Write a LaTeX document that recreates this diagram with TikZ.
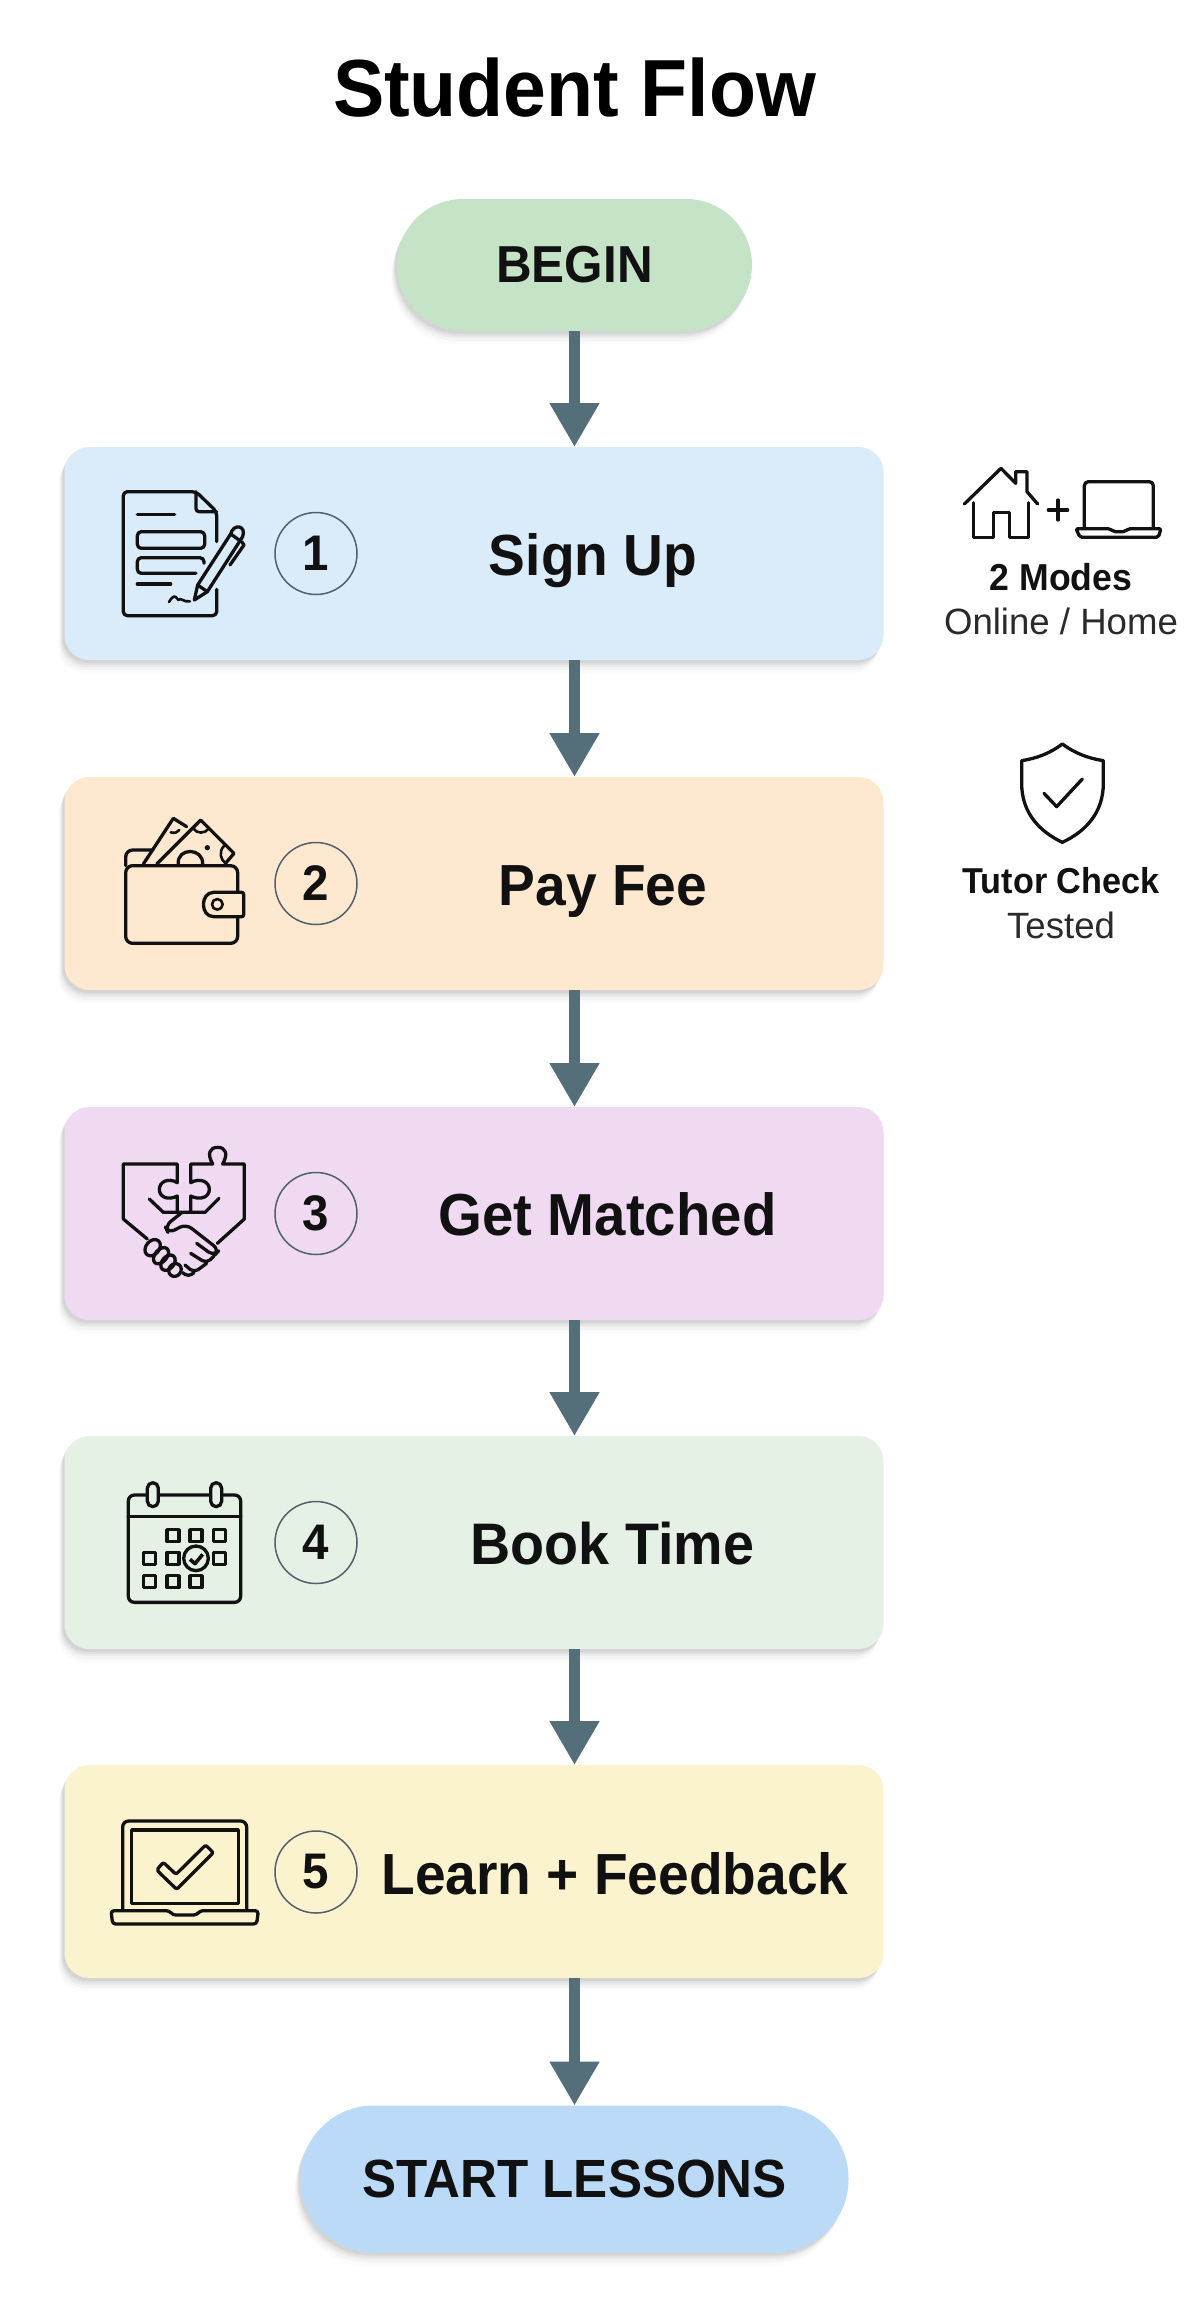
\documentclass[tikz,border=0pt]{standalone}
\usepackage{fontspec}
\setmainfont{Liberation Sans}
\newfontfamily\narrowf[FakeStretch=0.95]{Liberation Sans}
\usetikzlibrary{arrows.meta,shadows,calc}
\definecolor{ink}{HTML}{111111}
\definecolor{soft}{HTML}{2A2A2A}
\definecolor{flowc}{HTML}{546E7A}
\definecolor{ringc}{HTML}{52606B}
\definecolor{cbegin}{HTML}{C5E3C6}
\definecolor{cend}{HTML}{BBDAF7}
\definecolor{cone}{HTML}{DAEBFA}
\definecolor{ctwo}{HTML}{FEE8D0}
\definecolor{cthree}{HTML}{EFDAF2}
\definecolor{cfour}{HTML}{E6F1E6}
\definecolor{cfive}{HTML}{FBF3CE}
\tikzset{
  softshade/.style={
    drop shadow={shadow xshift=-6pt,shadow yshift=-13pt,opacity=.03},
    drop shadow={shadow xshift=-5pt,shadow yshift=-10pt,opacity=.05},
    drop shadow={shadow xshift=-4pt,shadow yshift=-7pt,opacity=.07},
    drop shadow={shadow xshift=-3pt,shadow yshift=-5pt,opacity=.09},
    drop shadow={shadow xshift=-2pt,shadow yshift=-3pt,opacity=.13}},
  cardbox/.style={rectangle,rounded corners=25pt,minimum width=819pt,minimum height=213pt,inner sep=0pt,outer sep=0pt,softshade},
  pillbox/.style={rectangle,inner sep=0pt,outer sep=0pt,softshade,text=ink,font=\narrowf\bfseries\fontsize{52}{56}\selectfont},
  steptext/.style={anchor=base,text=ink,font=\narrowf\bfseries\fontsize{58}{60}\selectfont},
  numring/.style={circle,draw=ringc,line width=1.5pt,minimum size=82pt,inner sep=0pt,text=ink,font=\narrowf\bfseries\fontsize{50}{52}\selectfont},
  flow/.style={draw=flowc,line width=11pt,-{Triangle[width=47pt,length=44pt]}},
  icon/.style={draw=ink,line width=3.3pt,line join=round,line cap=round},
  thinicon/.style={draw=ink,line width=2.6pt,line join=round,line cap=round},
  sidebold/.style={anchor=base,text=ink,font=\narrowf\bfseries\fontsize{36}{38}\selectfont},
  sidereg/.style={anchor=base,text=soft,font=\fontsize{36.6}{38}\selectfont}
}
\begin{document}
\begin{tikzpicture}[x=1pt,y=-1pt]
\path[use as bounding box,fill=white] (0,0) rectangle (1200,2302);

\node[anchor=base,text=black,font=\narrowf\bfseries\fontsize{81}{84}\selectfont] (title) at (574.5,116) {Student Flow};

\node[pillbox,fill=cbegin,minimum width=355pt,minimum height=132pt,rounded corners=66pt] (begin) at (574.5,265) {\raisebox{-2pt}{BEGIN}};
\node[cardbox,fill=cone] (card1) at (474,553.5) {};
\node[cardbox,fill=ctwo] (card2) at (474,883.5) {};
\node[cardbox,fill=cthree] (card3) at (474,1213.5) {};
\node[cardbox,fill=cfour] (card4) at (474,1542.5) {};
\node[cardbox,fill=cfive] (card5) at (474,1871.5) {};
\node[pillbox,fill=cend,minimum width=548pt,minimum height=147pt,rounded corners=73pt] (finish) at (574.5,2179) {\raisebox{-2pt}{\fontsize{53.8}{56}\selectfont START LESSONS}};

\draw[flow] (begin.south) -- (begin.south |- card1.north);
\draw[flow] (begin.south |- card1.south) -- (begin.south |- card2.north);
\draw[flow] (begin.south |- card2.south) -- (begin.south |- card3.north);
\draw[flow] (begin.south |- card3.south) -- (begin.south |- card4.north);
\draw[flow] (begin.south |- card4.south) -- (begin.south |- card5.north);
\draw[flow] (begin.south |- card5.south) -- (finish.north);

\node[numring] (n1) at (316,553.5) {1};
\node[numring] (n2) at (316,883.5) {2};
\node[numring] (n3) at (316,1213.5) {3};
\node[numring] (n4) at (316,1542.5) {4};
\node[numring] (n5) at (316,1872) {5};

\node[steptext] (t1) at (593,575) {Sign Up};
\node[steptext] (t2) at (603,905) {Pay Fee};
\node[steptext,font=\narrowf\bfseries\fontsize{59.3}{60}\selectfont] (t3) at (607.5,1235) {Get Matched};
\node[steptext,font=\narrowf\bfseries\fontsize{58.6}{60}\selectfont] (t4) at (612.5,1564) {Book Time};
\node[steptext] (t5) at (615,1894) {Learn + Feedback};

\node[sidebold,font=\narrowf\bfseries\fontsize{37.5}{38}\selectfont] (m1) at (1061,590) {2 Modes};
\node[sidereg] (m2) at (1061,634) {Online / Home};
\node[sidebold] (c1) at (1061,893) {Tutor Check};
\node[sidereg] (c2) at (1061,938) {Tested};

% document icon
\begin{scope}[shift={(60,430)},scale=1/3]
\draw[icon,rounded corners=4pt] (470,335) -- (470,245) -- (408,185) -- (190,185) -- (190,557) -- (470,557) -- (470,478);
\draw[icon,rounded corners=3pt] (408,185) -- (408,245) -- (470,245);
\draw[icon] (232,254) -- (344,254);
\draw[icon,rounded corners=4pt] (232,305) rectangle (434,355);
\draw[icon,rounded corners=4pt] (432,400) -- (432,383) -- (232,383) -- (232,430) -- (408,430);
\draw[icon] (232,462) -- (332,462);
\draw[thinicon] (327,516) .. controls (340,495) and (345,495) .. (355,510) .. controls (362,500) and (370,518) .. (390,514);
\draw[icon] (403,510) -- (413,465) -- (512,312) .. controls (520,280) and (560,285) .. (548,320) -- (442,485) -- cycle;
\draw[icon] (413,465) -- (442,485);
\draw[icon] (512,312) -- (540,332);
\draw[icon] (545,335) -- (552,345) -- (510,405);
\end{scope}

% wallet icon
\begin{scope}[shift={(60,760)},scale=1/3]
\draw[icon,rounded corners=7pt] (197,317) rectangle (533,550);
\draw[icon,rounded corners=7pt] (197,317) -- (197,270) -- (278,270);
\draw[icon] (250,312) -- (340,175) -- (380,200);
\draw[thinicon] (332,217) .. controls (345,220) and (352,218) .. (358,210);
\draw[icon] (290,312) -- (422,180) -- (522,280) -- (495,312);
\draw[icon] (355,312) .. controls (350,262) and (430,262) .. (428,312);
\fill[ink] (442,263) circle (8);
\draw[thinicon] (400,205) .. controls (410,222) and (435,222) .. (447,205);
\draw[thinicon] (492,258) .. controls (475,275) and (482,300) .. (497,310);
\draw[icon,fill=ctwo,rounded corners=2pt] (551,397) -- (467,397) .. controls (420,397) and (420,470) .. (467,470) -- (551,470) -- cycle;
\draw[thinicon] (472,433) circle (16);
\end{scope}

% handshake and puzzle icon
\begin{scope}[shift={(60,1090)},scale=1/3]
\draw[icon] (262,447) -- (190,387) -- (190,222) -- (352,222) -- (352,278) .. controls (325,262) and (298,275) .. (298,298) .. controls (298,322) and (325,332) .. (352,318) -- (352,365);
\draw[icon] (392,365) -- (392,318) .. controls (420,332) and (448,322) .. (448,298) .. controls (448,275) and (420,262) .. (392,278) -- (392,222) -- (458,222) .. controls (440,190) and (450,172) .. (473,172) .. controls (496,172) and (506,190) .. (488,222) -- (553,222) -- (553,387) -- (472,460);
\draw[icon] (268,327) -- (310,367) -- (435,367) -- (477,325);
\draw[icon,rounded corners=7pt] (365,368) -- (315,408) -- (325,430) -- (378,402) -- (478,480) -- (462,498) -- (410,460);
\draw[icon,rounded corners=5pt] (462,498) -- (440,520) -- (392,490);
\draw[icon,rounded corners=5pt] (440,520) -- (402,548) -- (375,525);
\draw[icon,rounded corners=4pt] (402,548) -- (385,560) -- (368,548);
\draw[icon,rotate around={50:(278,473)}] (278,473) ellipse (27 and 20);
\draw[icon,rotate around={50:(303,497)}] (303,497) ellipse (28 and 18);
\draw[icon,rotate around={50:(324,518)}] (324,518) ellipse (26 and 18);
\draw[icon,rotate around={50:(345,540)}] (345,540) ellipse (20 and 18);
\end{scope}

% calendar icon
\begin{scope}[shift={(60,1420)},scale=1/3]
\draw[icon,rounded corners=6pt] (205,225) rectangle (542,547);
\draw[icon] (205,290) -- (542,290);
\draw[icon,fill=cfour,rounded corners=5.5pt] (262,188) rectangle (295,260);
\draw[icon,fill=cfour,rounded corners=5.5pt] (452,188) rectangle (485,260);
\foreach \px/\py in {339/347,408/347,478/347,268/415,339/415,478/415,268/485,339/485,408/485}{
  \draw[icon] (\px-18,\py-18) rectangle (\px+18,\py+18);
}
\draw[icon,fill=cfour] (408,415) circle (37);
\draw[draw=ink,line width=3.6pt,line join=round] (390,418) -- (405,431) -- (428,403);
\end{scope}

% laptop icon
\begin{scope}[shift={(60,1740)},scale=1/3]
\draw[icon,rounded corners=6pt] (188,510) -- (188,243) -- (560,243) -- (560,510);
\draw[icon] (215,270) rectangle (535,490);
\draw[icon,rounded corners=3pt] (153,512) -- (328,512) -- (338,525) -- (410,525) -- (420,512) -- (595,512) -- (590,552) -- (158,552) -- cycle;
\draw[icon,rounded corners=2pt] (290,390) -- (310,367) -- (348,403) -- (437,315) -- (460,338) -- (350,448) -- cycle;
\end{scope}

% house and laptop side icon
\begin{scope}[shift={(900,430)},scale=1/3]
\draw[icon] (193,222) -- (303,115) -- (347,160) -- (347,125) -- (381,125) -- (381,185) -- (413,222);
\draw[icon] (220,218) -- (220,322) -- (280,322) -- (280,248) -- (328,248) -- (328,322) -- (385,322) -- (385,218);
\draw[icon] (445,240) -- (503,240);
\draw[icon] (474,210) -- (474,270);
\draw[icon,rounded corners=4pt] (553,295) -- (553,155) -- (760,155) -- (760,295);
\draw[icon,rounded corners=2pt] (528,296) -- (630,296) -- (640,305) -- (675,305) -- (685,296) -- (783,296) -- (775,322) -- (540,322) -- cycle;
\end{scope}

% shield side icon
\begin{scope}[shift={(900,700)},scale=1/3]
\draw[icon] (487,132) .. controls (450,160) and (410,175) .. (365,182) -- (365,250) .. controls (365,340) and (420,395) .. (487,427) .. controls (555,395) and (610,340) .. (610,250) -- (610,182) .. controls (565,175) and (525,160) .. (487,132) -- cycle;
\draw[icon] (432,280) -- (470,320) -- (547,237);
\end{scope}
\end{tikzpicture}
\end{document}
